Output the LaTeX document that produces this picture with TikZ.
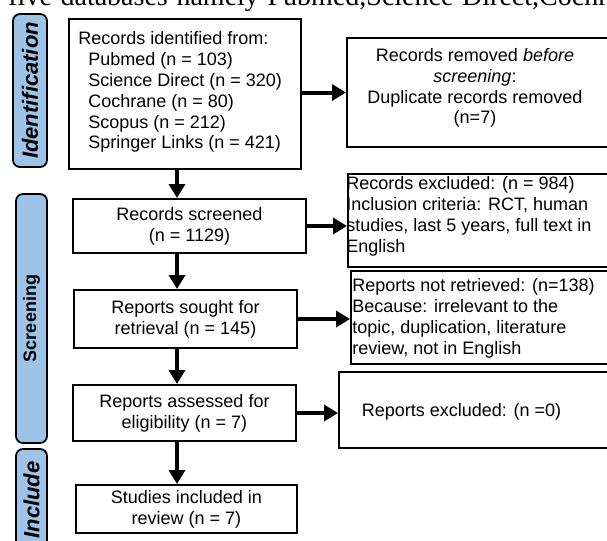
\documentclass[tikz,border=0pt]{standalone}
\usepackage{fontspec}
\setmainfont{Liberation Sans}
\newfontfamily\timesfont{Liberation Serif}
\usetikzlibrary{arrows.meta}
\definecolor{sideblue}{RGB}{157,195,230}
\tikzset{
  box/.style={draw, line width=1pt, inner sep=0pt, align=center},
  txt/.style={inner sep=0pt, align=left},
  arr/.style={line width=2pt, -{Triangle[length=7pt,width=8pt]}},
  side/.style={draw, line width=0.9pt, rounded corners=3.5pt, fill=sideblue,
    rotate=90, inner sep=0pt, font=\fontsize{11}{12}\selectfont\bfseries\itshape}
}
\begin{document}
\begin{tikzpicture}[x=0.5pt, y=-0.5pt, font=\fontsize{9}{10.4}\selectfont]
  \useasboundingbox (0,0) rectangle (607,541);
  \clip (0,0) rectangle (607,541);

  % cut-off line of the page above
  \node[inner sep=0pt, anchor=base west, font=\timesfont\fontsize{14}{16}\selectfont] (top) at (8,5)
    {\makebox[319pt][s]{five databases namely Pubmed,Science Direct,Cochrane}};

  % stage labels
  \node[side, minimum width=76.5pt, minimum height=17pt] (lident) at (30,90.5) {Identification};
  \node[side, minimum width=124.5pt, minimum height=15.5pt, font=\fontsize{9}{10}\selectfont\bfseries] (lscreen) at (31.5,318.5) {Screening};
  \node[side, minimum width=51pt, minimum height=15.5pt] (linclude) at (31.5,500) {Include};

  % left column
  \node[box, minimum width=116pt, minimum height=75pt] (ident) at (185,94) {};
  \node[txt, anchor=north west] (identT) at (78,31.5) {Records identified from:\\
    \hspace*{5pt}Pubmed (n = 103)\\
    \hspace*{5pt}Science Direct (n = 320)\\
    \hspace*{5pt}Cochrane (n = 80)\\
    \hspace*{5pt}Scopus (n = 212)\\
    \hspace*{5pt}Springer Links (n = 421)};
  \node[box, minimum width=116.5pt, minimum height=27pt] (screened) at (189.5,226) {Records screened\\(n = 1129)};
  \node[box, minimum width=111.5pt, minimum height=29pt] (sought) at (185.5,319) {Reports sought for\\retrieval (n = 145)};
  \node[box, minimum width=111.5pt, minimum height=28pt] (assessed) at (184.5,413) {Reports assessed for\\eligibility (n = 7)};
  \node[box, minimum width=110.5pt, minimum height=24pt] (studies) at (186.5,509) {Studies included in\\review (n = 7)};

  % right column
  \node[box, minimum width=136.5pt, minimum height=54.5pt] (removed) at (483.5,92.5) {};
  \node[inner sep=0pt, align=center] (removedT) at (475,88) {Records removed \textit{before}\\
    \textit{screening}:\\Duplicate records removed\\(n=7)};
  \node[box, minimum width=136pt, minimum height=46.5pt] (excl) at (484,220.5) {};
  \node[txt, anchor=north west] (exclT) at (346,176.5) {Records excluded: (n = 984)\\
    Inclusion criteria: RCT, human\\studies, last 5 years, full text in\\English};
  \node[box, minimum width=134.5pt, minimum height=46.5pt] (notret) at (485.5,317.5) {};
  \node[txt, anchor=north west] (notretT) at (352,278.5) {Reports not retrieved: (n=138)\\
    Because: irrelevant to the\\topic, duplication, literature\\review, not in English};
  \node[box, minimum width=140.5pt, minimum height=38pt] (excl0) at (479.5,410) {};
  \node[inner sep=0pt] (excl0T) at (461.5,412) {Reports excluded: (n =0)};

  % arrows
  \coordinate (col) at (177,0);
  \draw[arr] (ident.south -| col) -- (screened.north -| col);
  \draw[arr] (screened.south -| col) -- (sought.north -| col);
  \draw[arr] (sought.south -| col) -- (assessed.north -| col);
  \draw[arr] (assessed.south -| col) -- (studies.north -| col);
  \draw[arr] (ident.east |- removed.west) -- (removed.west);
  \draw[arr] (screened.east) -- (screened.east -| excl.west);
  \draw[arr] (sought.east) -- (sought.east -| notret.west);
  \draw[arr] (assessed.east) -- (assessed.east -| excl0.west);
\end{tikzpicture}
\end{document}
